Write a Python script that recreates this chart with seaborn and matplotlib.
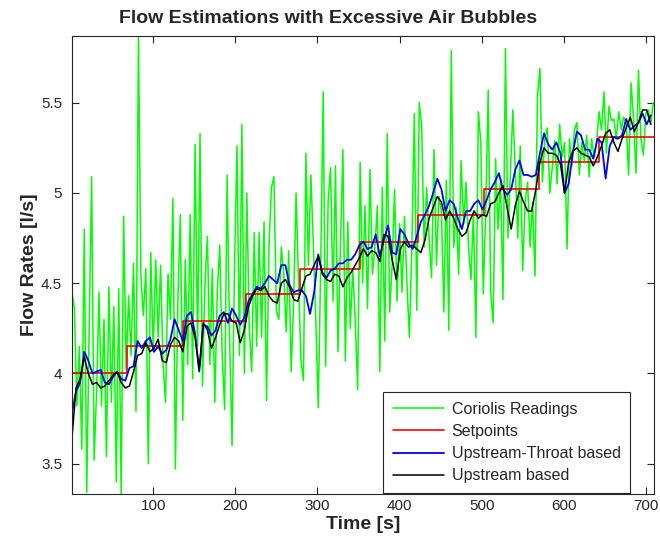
import numpy as np
import matplotlib
matplotlib.use("Agg")
import matplotlib.pyplot as plt
import seaborn as sns

# Coriolis readings, sampled every 3 s (t = 1, 4, ..., 709)
coriolis_time = np.arange(1, 710, 3)
coriolis_flow = [
    4.45, 4.36, 3.82, 4.15, 3.58, 4.80, 3.34, 4.25, 5.09, 3.52,
    3.90, 4.45, 3.82, 4.30, 3.54, 4.48, 3.84, 4.37, 3.40, 4.47,
    3.33, 4.87, 4.02, 4.43, 4.10, 4.61, 3.79, 5.87, 4.54, 4.32,
    4.58, 3.50, 4.67, 4.12, 4.63, 4.20, 4.60, 4.05, 3.84, 4.55,
    4.30, 4.97, 3.47, 4.40, 4.88, 3.74, 4.63, 4.05, 4.88, 3.97,
    5.27, 4.15, 5.33, 3.93, 4.50, 4.76, 4.05, 4.58, 3.84, 4.45,
    4.71, 4.10, 3.80, 5.10, 4.20, 3.60, 4.60, 5.26, 4.10, 5.38,
    4.00, 5.00, 4.25, 4.01, 4.78, 4.15, 4.78, 4.20, 4.84, 3.85,
    4.71, 5.03, 5.09, 4.35, 4.30, 4.70, 4.55, 4.23, 4.68, 4.01,
    4.40, 5.00, 4.50, 4.07, 3.96, 5.22, 4.60, 5.10, 4.72, 4.30,
    3.81, 4.60, 5.56, 4.04, 4.95, 5.14, 4.40, 5.15, 4.12, 4.70,
    5.24, 4.07, 4.84, 4.25, 4.58, 4.30, 3.91, 5.17, 4.50, 4.93,
    4.36, 5.13, 4.55, 4.70, 4.93, 4.01, 5.03, 4.18, 5.33, 4.34,
    4.60, 5.02, 4.40, 4.83, 4.45, 4.87, 4.50, 4.20, 4.70, 5.44,
    4.35, 5.50, 5.37, 4.70, 5.03, 4.75, 4.53, 5.24, 4.60, 4.98,
    4.90, 4.34, 5.07, 4.24, 5.79, 4.70, 4.92, 4.55, 5.18, 4.83,
    5.06, 4.70, 4.52, 4.90, 4.20, 5.45, 5.28, 4.44, 4.90, 5.57,
    4.45, 4.28, 5.19, 4.80, 5.08, 4.41, 5.80, 4.75, 5.10, 5.46,
    5.13, 4.75, 5.26, 4.57, 4.95, 5.06, 4.70, 4.95, 4.54, 5.54,
    5.69, 5.06, 5.30, 5.36, 5.00, 5.14, 5.29, 5.05, 5.38, 5.20,
    5.28, 4.69, 5.30, 5.15, 5.35, 5.39, 5.10, 5.28, 5.18, 5.32,
    5.09, 5.30, 5.20, 5.28, 5.45, 5.35, 5.56, 5.22, 5.48, 5.40,
    5.41, 5.30, 5.45, 5.35, 5.42, 5.39, 5.10, 5.61, 5.41, 5.11,
    5.68, 5.30, 5.21, 5.44, 5.46, 5.38, 5.50,
]

# setpoint steps
setpoint_time = [1, 68, 136, 213, 279, 352, 422, 503, 570, 643, 710]
setpoint_flow = [4.00, 4.15, 4.29, 4.44, 4.58, 4.73, 4.88, 5.02, 5.17, 5.31, 5.31]

# estimations, sampled every 5 s (t = 1, 6, ..., 706)
est_time = np.arange(1, 707, 5)
throat_flow = [
    3.78, 3.90, 3.95, 4.12, 4.07, 4.00, 4.01, 4.02, 3.95, 3.94,
    3.98, 4.01, 3.97, 3.96, 4.03, 4.04, 4.18, 4.14, 4.18, 4.20,
    4.12, 4.15, 4.11, 4.13, 4.19, 4.30, 4.24, 4.18, 4.32, 4.34,
    4.22, 4.01, 4.27, 4.26, 4.21, 4.24, 4.32, 4.34, 4.28, 4.36,
    4.32, 4.27, 4.31, 4.40, 4.44, 4.48, 4.47, 4.50, 4.54, 4.52,
    4.50, 4.60, 4.60, 4.49, 4.45, 4.46, 4.46, 4.43, 4.33, 4.45,
    4.66, 4.56, 4.53, 4.57, 4.58, 4.61, 4.61, 4.63, 4.63, 4.66,
    4.71, 4.73, 4.69, 4.70, 4.77, 4.65, 4.74, 4.82, 4.67, 4.66,
    4.80, 4.77, 4.72, 4.69, 4.76, 4.84, 4.88, 4.93, 5.00, 5.08,
    5.02, 4.90, 4.96, 4.94, 4.86, 4.80, 4.90, 4.90, 4.94, 4.96,
    4.91, 4.96, 5.02, 5.06, 5.11, 5.02, 4.99, 5.02, 5.13, 5.18,
    5.10, 5.10, 5.09, 5.10, 5.22, 5.33, 5.27, 5.24, 5.28, 5.22,
    5.00, 5.05, 5.22, 5.34, 5.32, 5.24, 5.24, 5.19, 5.30, 5.28,
    5.08, 5.26, 5.31, 5.30, 5.32, 5.41, 5.35, 5.37, 5.39, 5.44,
    5.38, 5.43,
]
upstream_flow = [
    3.64, 3.92, 3.97, 4.09, 4.00, 3.94, 3.95, 3.92, 3.93, 3.96,
    3.99, 4.01, 3.95, 3.92, 3.93, 4.01, 4.10, 4.11, 4.17, 4.12,
    4.14, 4.19, 4.07, 4.06, 4.16, 4.20, 4.18, 4.12, 4.26, 4.28,
    4.20, 4.02, 4.28, 4.24, 4.14, 4.20, 4.27, 4.33, 4.33, 4.29,
    4.28, 4.17, 4.24, 4.37, 4.43, 4.47, 4.46, 4.48, 4.43, 4.40,
    4.39, 4.50, 4.52, 4.48, 4.41, 4.40, 4.47, 4.54, 4.55, 4.60,
    4.65, 4.55, 4.52, 4.51, 4.55, 4.54, 4.48, 4.53, 4.56, 4.60,
    4.64, 4.69, 4.65, 4.68, 4.67, 4.62, 4.77, 4.76, 4.63, 4.52,
    4.69, 4.73, 4.70, 4.71, 4.69, 4.67, 4.74, 4.86, 4.92, 4.98,
    4.95, 4.85, 4.90, 4.86, 4.80, 4.76, 4.78, 4.85, 4.90, 4.86,
    4.88, 4.87, 4.94, 4.95, 5.00, 5.04, 4.92, 4.80, 4.93, 5.01,
    4.95, 4.90, 4.90, 5.02, 5.17, 5.25, 5.22, 5.22, 5.21, 5.16,
    5.00, 5.17, 5.23, 5.25, 5.22, 5.21, 5.20, 5.15, 5.20, 5.26,
    5.33, 5.35, 5.28, 5.23, 5.30, 5.36, 5.42, 5.34, 5.39, 5.46,
    5.46, 5.38,
]

sns.set_style("ticks")
plt.rcParams['font.family'] = ['Liberation Sans', 'DejaVu Sans']

fig = plt.figure(figsize=(6.6, 5.53), dpi=100)
ax = fig.add_axes([0.109, 0.106, 0.882, 0.829])

sns.lineplot(x=coriolis_time, y=coriolis_flow, color='#00FF00', lw=1.1,
             estimator=None, label='Coriolis Readings', ax=ax)
sns.lineplot(x=setpoint_time, y=setpoint_flow, color='#FF0000', lw=1.2,
             estimator=None, drawstyle='steps-post', label='Setpoints', ax=ax)
sns.lineplot(x=est_time, y=throat_flow, color='#0000FF', lw=1.3,
             estimator=None, label='Upstream-Throat based', ax=ax)
sns.lineplot(x=est_time, y=upstream_flow, color='black', lw=1.1,
             estimator=None, label='Upstream based', ax=ax)

ax.set_xlim(1, 710)
ax.set_ylim(min(coriolis_flow), max(coriolis_flow))
ax.set_xticks(range(100, 701, 100))
ax.set_yticks([3.5, 4, 4.5, 5, 5.5])
ax.set_yticklabels(['3.5', '4', '4.5', '5', '5.5'])

dark = '#262626'
for side in ['top', 'right', 'bottom', 'left']:
    ax.spines[side].set_visible(True)
    ax.spines[side].set_color(dark)
    ax.spines[side].set_linewidth(0.8)
ax.tick_params(direction='in', top=True, right=True, length=5, width=0.8,
               colors=dark, labelsize=11)
ax.tick_params(axis='y', pad=7)

fig.text(0.497, 0.966, 'Flow Estimations with Excessive Air Bubbles', fontsize=14,
         fontweight='bold', ha='center', va='center')
ax.set_xlabel('Time [s]', fontsize=14, fontweight='bold', color=dark, labelpad=2)
ax.set_ylabel('Flow Rates [l/s]', fontsize=14, fontweight='bold', color=dark, labelpad=2)

leg = ax.legend(loc='lower right', bbox_to_anchor=(0.959, 0.003), borderaxespad=0,
                fontsize=11.5, handlelength=3.2, handletextpad=0.5, frameon=True,
                fancybox=False, labelspacing=0.45, borderpad=0.6)
leg.get_frame().set_edgecolor(dark)
leg.get_frame().set_linewidth(0.8)
leg.get_frame().set_alpha(1)

fig.savefig('out.png', dpi=100)
